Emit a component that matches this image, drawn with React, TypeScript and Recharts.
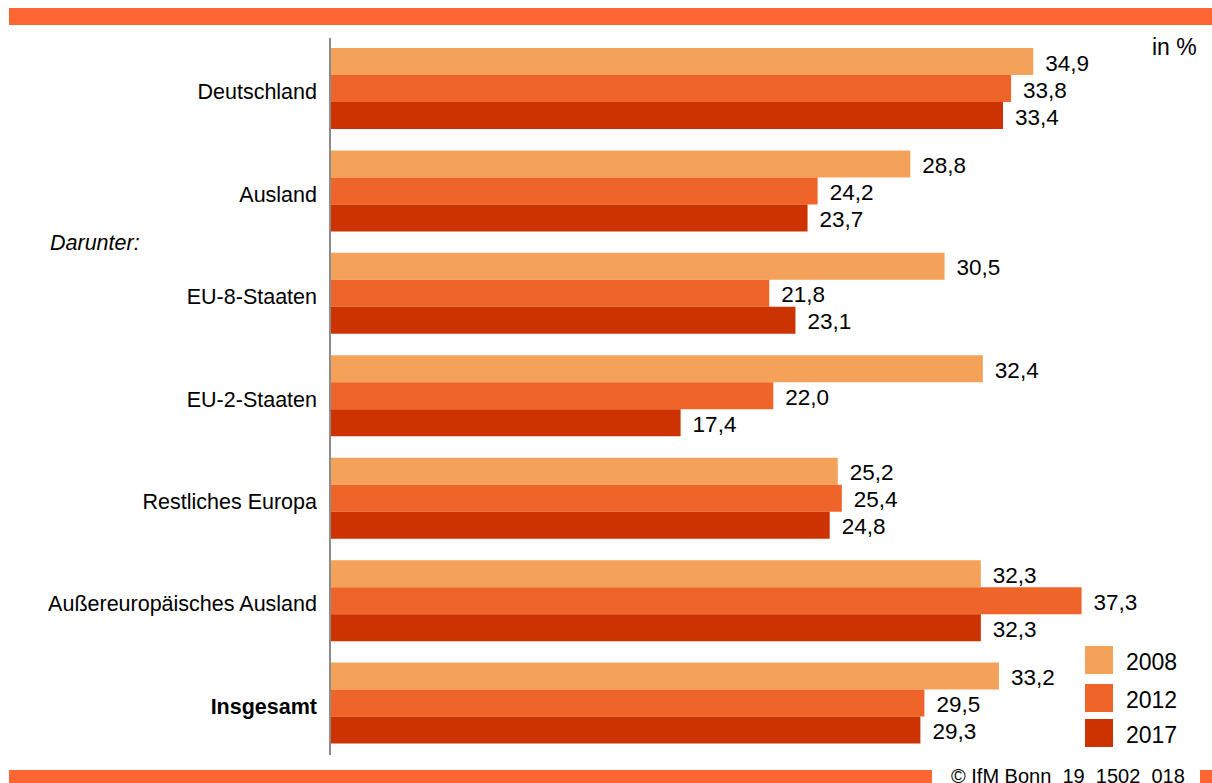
import React from "react";
import { BarChart, Bar, XAxis, YAxis, LabelList } from "recharts";

const categories = [
  "Deutschland",
  "Ausland",
  "EU-8-Staaten",
  "EU-2-Staaten",
  "Restliches Europa",
  "Außereuropäisches Ausland",
  "Insgesamt",
];
const values2008 = [34.9, 28.8, 30.5, 32.4, 25.2, 32.3, 33.2];
const values2012 = [33.8, 24.2, 21.8, 22.0, 25.4, 37.3, 29.5];
const values2017 = [33.4, 23.7, 23.1, 17.4, 24.8, 32.3, 29.3];
const seriesNames = ["2008", "2012", "2017"];
const colors = ["#F4A25A", "#EF6428", "#CC3300"];

const data = categories.map((c, i) => ({
  name: c,
  v2008: values2008[i],
  v2012: values2012[i],
  v2017: values2017[i],
}));
const keys = ["v2008", "v2012", "v2017"];

const FONT = "'Liberation Sans', Arial, sans-serif";

const fmt = (v: any) => Number(v).toFixed(1).replace(".", ",");

const CatTick = (props: any) => {
  const { x, y, payload } = props;
  const bold = payload.value === "Insgesamt";
  return (
    <text
      x={x}
      y={y + 10}
      textAnchor="end"
      fontFamily={FONT}
      fontSize={21.5}
      fontWeight={bold ? "bold" : "normal"}
      fill="#000"
    >
      {payload.value}
    </text>
  );
};

const ValueLabel = (props: any) => {
  const { x, y, width, height, value } = props;
  return (
    <text
      x={Number(x) + Number(width) + 12}
      y={Number(y) + Number(height) / 2 + 9}
      textAnchor="start"
      fontFamily={FONT}
      fontSize={22.5}
      fill="#000"
    >
      {fmt(value)}
    </text>
  );
};

export default function App() {
  return (
    <div
      style={{
        position: "absolute",
        left: 0,
        top: 0,
        width: 1212,
        height: 783,
        overflow: "hidden",
        background: "#fff",
        fontFamily: FONT,
      }}
    >
      <div style={{ position: "absolute", left: 9, top: 8, width: 1203, height: 17, background: "#FF6633" }} />
      <div style={{ position: "absolute", left: 9, top: 770, width: 923, height: 13, background: "#FF6633" }} />
      <div style={{ position: "absolute", left: 1200, top: 770, width: 12, height: 13, background: "#FF6633" }} />
      <div
        style={{
          position: "absolute",
          left: 951,
          top: 765,
          fontSize: 20,
          lineHeight: "22px",
          whiteSpace: "pre",
          color: "#000",
        }}
      >
        © IfM Bonn_19_1502_018
      </div>
      <div style={{ position: "absolute", left: 1152, top: 34, fontSize: 23, lineHeight: "26px", color: "#000" }}>
        in %
      </div>
      <div
        style={{
          position: "absolute",
          left: 50,
          top: 231,
          fontSize: 21.5,
          lineHeight: "25px",
          fontStyle: "italic",
          color: "#000",
        }}
      >
        Darunter:
      </div>
      {seriesNames.map((s, i) => (
        <div key={s}>
          <div
            style={{
              position: "absolute",
              left: 1085,
              top: [646, 684, 719][i],
              width: 28,
              height: 28,
              background: colors[i],
            }}
          />
          <div
            style={{
              position: "absolute",
              left: 1126,
              top: [646, 684, 719][i] + 2,
              fontSize: 23,
              lineHeight: "28px",
              color: "#000",
            }}
          >
            {s}
          </div>
        </div>
      ))}
      <div style={{ position: "absolute", left: 0, top: 0 }}>
        <BarChart
          width={1212}
          height={783}
          data={data}
          layout="vertical"
          margin={{ top: 38, right: 76, bottom: 28, left: 0 }}
          barCategoryGap={10}
          barGap={0}
        >
          <XAxis type="number" domain={[0, 40]} hide />
          <YAxis
            type="category"
            dataKey="name"
            width={330}
            axisLine={{ stroke: "#8C8C8C", strokeWidth: 2 }}
            tickLine={false}
            tickSize={0}
            tickMargin={13}
            tick={<CatTick />}
            interval={0}
          />
          {keys.map((k, i) => (
            <Bar key={k} dataKey={k} fill={colors[i]} isAnimationActive={false}>
              <LabelList dataKey={k} content={<ValueLabel />} />
            </Bar>
          ))}
        </BarChart>
      </div>
    </div>
  );
}
